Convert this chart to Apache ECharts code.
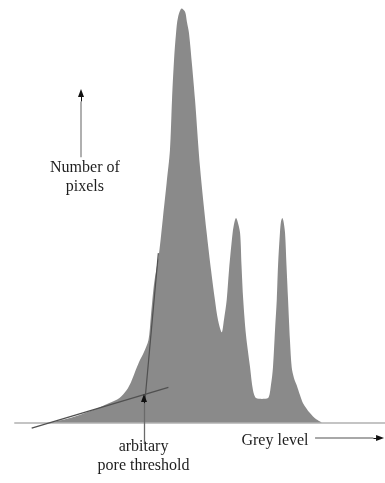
<!DOCTYPE html>
<html>
<head>
<meta charset="utf-8">
<style>
  html, body { margin: 0; padding: 0; background: #ffffff; }
  #chart { width: 385px; height: 483px; }
</style>
<script src="https://cdn.jsdelivr.net/npm/echarts@6/dist/echarts.min.js"></script>
</head>
<body>
<div id="chart"></div>
<script>
// Grey-level histogram (arbitrary units): grey level vs number of pixels
const greyLevel = [24, 38, 52, 65, 72, 77, 80, 82.7, 85.5, 88.9, 92, 93.6, 95.9, 99.3, 102, 104.5, 106.8, 108.2, 109.6, 111, 112.3, 114.9, 117.2, 118.5, 119.9, 122, 124.1, 127.5, 132.1, 135.1, 137.8, 139.9, 142.5, 144, 145.9, 147.5, 150, 151.3, 152.3, 153.3, 155.1, 156.1, 157.3, 159.2, 162, 164, 166.1, 170.2, 174.4, 176.4, 177.8, 179.2, 180.4, 181.3, 182.6, 183.3, 184.2, 185, 186.1, 187.1, 188.2, 189.5, 190.7, 192.3, 194.1, 196.4, 198.5, 203.3, 207.4, 211.6];
const pixelCount = [0, 10.7, 27.2, 46.2, 58, 76.9, 95.9, 119.5, 143.2, 166.9, 195.3, 249.7, 330.2, 401.2, 486.4, 566.9, 645, 763, 858, 922, 958, 980, 972, 948, 922, 846, 763, 605, 449, 361, 290, 243, 214, 243, 290, 361, 449, 475, 484, 477, 449, 373, 290, 207, 131, 77, 58, 56, 58, 89, 131, 219, 290, 373, 449, 475, 484, 477, 449, 373, 290, 195, 131, 105, 89, 65, 46, 22.5, 8.3, 0];

// Annotation geometry, in [grey level, pixel count] units
const lowTangent = [[11.5, -13], [105.7, 83.3]];
const steepTangent = [[98.8, 401], [89.6, 53.3]];
const thresholdArrow = [[88.9, -48.5], [88.9, 58]];
const countArrow = [[45.5, 628], [45.5, 760], [45.5, 780]];
const greyArrow = [[206.8, -36.7], [247, -36.7], [251.6, -36.7]];

const countLabel = { at: [48.2, 580], text: 'Number of\npixels' };
const greyLabel = { at: [179.2, -43.8], text: 'Grey level' };
const thresholdLabel = { at: [88.6, -79.3], text: 'arbitary\npore threshold' };

const serif = '"Liberation Serif", "DejaVu Serif", serif';

function seg(a, b, color, width, arrowEnd) {
  return [
    { coord: a, symbol: 'none', lineStyle: { color: color, width: width, type: 'solid' } },
    { coord: b, symbol: arrowEnd ? 'triangle' : 'none', symbolSize: [6, 8] }
  ];
}

function textMark(item) {
  return {
    coord: item.at,
    symbol: 'rect',
    symbolSize: 1,
    itemStyle: { color: 'rgba(0,0,0,0)' },
    label: {
      show: true,
      position: 'inside',
      formatter: item.text,
      fontFamily: serif,
      fontSize: 16,
      lineHeight: 19,
      color: '#1e1e1e',
      align: 'center',
      verticalAlign: 'middle'
    }
  };
}

const chart = echarts.init(document.getElementById('chart'), null, { renderer: 'canvas' });

chart.setOption({
  animation: false,
  backgroundColor: '#ffffff',
  grid: { left: 15, right: 0, top: 0, bottom: 0, containLabel: false },
  xAxis: {
    type: 'value',
    min: 0,
    max: 255,
    axisLine: { show: true, onZero: true, lineStyle: { color: '#c4c4c4', width: 2 } },
    axisTick: { show: false },
    axisLabel: { show: false },
    splitLine: { show: false }
  },
  yAxis: {
    type: 'value',
    min: -143,
    max: 1000,
    show: false,
    splitLine: { show: false }
  },
  series: [{
    type: 'line',
    data: greyLevel.map((g, i) => [g, pixelCount[i]]),
    smooth: 0.3,
    showSymbol: false,
    clip: false,
    silent: true,
    lineStyle: { width: 0 },
    areaStyle: { color: '#8a8a8a', opacity: 1 },
    markLine: {
      silent: true,
      symbol: 'none',
      label: { show: false },
      emphasis: { disabled: true },
      data: [
        seg(lowTangent[0], lowTangent[1], '#505050', 1.2, false),
        seg(steepTangent[0], steepTangent[1], '#505050', 1.2, false),
        seg(thresholdArrow[0], thresholdArrow[1], '#6a6a6a', 1.3, false),
        seg([thresholdArrow[1][0], thresholdArrow[1][1] - 12], thresholdArrow[1], '#111111', 1, true),
        seg(countArrow[0], countArrow[1], '#a8a8a8', 1.8, false),
        seg(countArrow[1], countArrow[2], '#111111', 1, true),
        seg(greyArrow[0], greyArrow[1], '#a8a8a8', 1.8, false),
        seg(greyArrow[1], greyArrow[2], '#111111', 1, true)
      ]
    },
    markPoint: {
      silent: true,
      emphasis: { disabled: true },
      data: [textMark(countLabel), textMark(greyLabel), textMark(thresholdLabel)]
    }
  }]
});
</script>
</body>
</html>
